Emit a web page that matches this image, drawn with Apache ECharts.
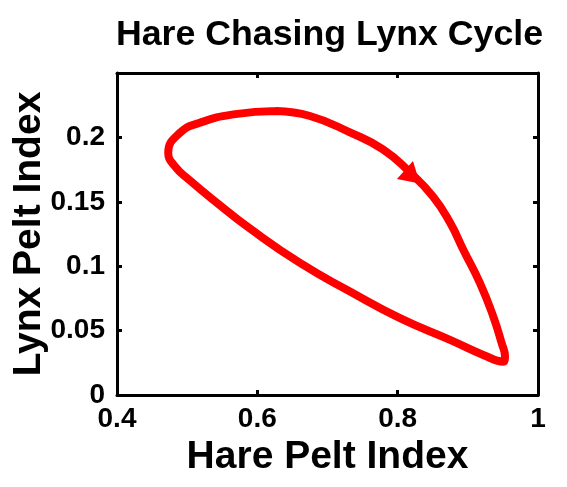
<!DOCTYPE html>
<html>
<head>
<meta charset="utf-8">
<script src="https://cdn.jsdelivr.net/npm/echarts@6/dist/echarts.min.js"></script>
<style>
html,body{margin:0;padding:0;background:#fff;}
#chart{width:567px;height:487px;}
</style>
</head>
<body>
<div id="chart"></div>
<script>
// Hare (x) and Lynx (y) pelt indices, traced clockwise starting near the top
var hareValues = [0.6276, 0.675, 0.732, 0.779, 0.8176, 0.8503, 0.8746, 0.8935, 0.9173, 0.9363, 0.9482, 0.953,
                  0.9505, 0.922, 0.8746, 0.8033, 0.732, 0.6608, 0.5895, 0.542, 0.504, 0.4827,
                  0.473, 0.4898, 0.518, 0.5658, 0.6276];
var lynxValues = [0.2205, 0.2166, 0.2039, 0.1907, 0.1728, 0.1541, 0.1339, 0.1128, 0.0869, 0.0609, 0.0402, 0.0296,
                  0.0259, 0.0311, 0.0428, 0.0597, 0.0804, 0.1025, 0.1292, 0.1494, 0.1665, 0.1774,
                  0.1881, 0.2036, 0.2114, 0.2179, 0.2205];
// Direction arrow position on the cycle
var arrowHare = [0.821];
var arrowLynx = [0.1695];
var xTicks = [0.4, 0.6, 0.8, 1];
var yTicks = [0, 0.05, 0.1, 0.15, 0.2];

var cycle = hareValues.map(function (h, i) { return [h, lynxValues[i]]; });
var arrow = arrowHare.map(function (h, i) { return [h, arrowLynx[i]]; });

var FONT = '"Liberation Sans", Arial, Helvetica, sans-serif';
var axisLine = { show: true, onZero: false, lineStyle: { color: '#000', width: 3 } };
var tick = { show: true, inside: true, length: 5, lineStyle: { color: '#000', width: 3 } };
var lbl = { color: '#000', fontFamily: FONT, fontWeight: 'bold', fontSize: 28 };
var fmt = function (v) { return String(+v.toFixed(2)); };

var chart = echarts.init(document.getElementById('chart'), null, { renderer: 'canvas' });
chart.setOption({
  animation: false,
  backgroundColor: '#fff',
  title: {
    text: 'Hare Chasing Lynx Cycle',
    left: 324.5, top: 12, textAlign: 'center',
    textStyle: { color: '#000', fontFamily: FONT, fontWeight: 'bold', fontSize: 35.7 }
  },
  grid: { left: 117, right: 29, top: 73, bottom: 92, containLabel: false, outerBoundsMode: 'none' },
  xAxis: [{
    type: 'value', position: 'bottom', min: xTicks[0], max: xTicks[xTicks.length - 1], interval: 0.2,
    axisLine: axisLine, axisTick: tick, splitLine: { show: false },
    axisLabel: Object.assign({ margin: 10, formatter: fmt }, lbl),
    name: 'Hare Pelt Index', nameLocation: 'middle', nameGap: 42,
    nameTextStyle: { color: '#000', fontFamily: FONT, fontWeight: 'bold', fontSize: 39 }
  }, {
    type: 'value', position: 'top', min: xTicks[0], max: xTicks[xTicks.length - 1], interval: 0.2,
    axisLine: axisLine, axisTick: tick, splitLine: { show: false }, axisLabel: { show: false }
  }],
  yAxis: [{
    type: 'value', position: 'left', min: yTicks[0], max: 0.25, interval: 0.05,
    axisLine: axisLine, axisTick: tick, splitLine: { show: false },
    axisLabel: Object.assign({ margin: 12, showMaxLabel: false, formatter: fmt }, lbl),
    name: 'Lynx Pelt Index', nameLocation: 'middle', nameGap: 68, nameMoveOverlap: false,
    nameTextStyle: { color: '#000', fontFamily: FONT, fontWeight: 'bold', fontSize: 39 }
  }, {
    type: 'value', position: 'right', min: yTicks[0], max: 0.25, interval: 0.05,
    axisLine: axisLine, axisTick: tick, splitLine: { show: false }, axisLabel: { show: false }
  }],
  series: [{
    type: 'line', xAxisIndex: 0, yAxisIndex: 0, data: cycle,
    smooth: 0.5, showSymbol: false, symbol: 'none', z: 2,
    lineStyle: { color: '#ff0000', width: 8, cap: 'round', join: 'round' }
  }, {
    type: 'scatter', xAxisIndex: 0, yAxisIndex: 0, data: arrow, z: 3,
    symbol: 'triangle', symbolSize: [24, 20], symbolRotate: -132,
    itemStyle: { color: '#ff0000', opacity: 1 }
  }]
});
</script>
</body>
</html>
